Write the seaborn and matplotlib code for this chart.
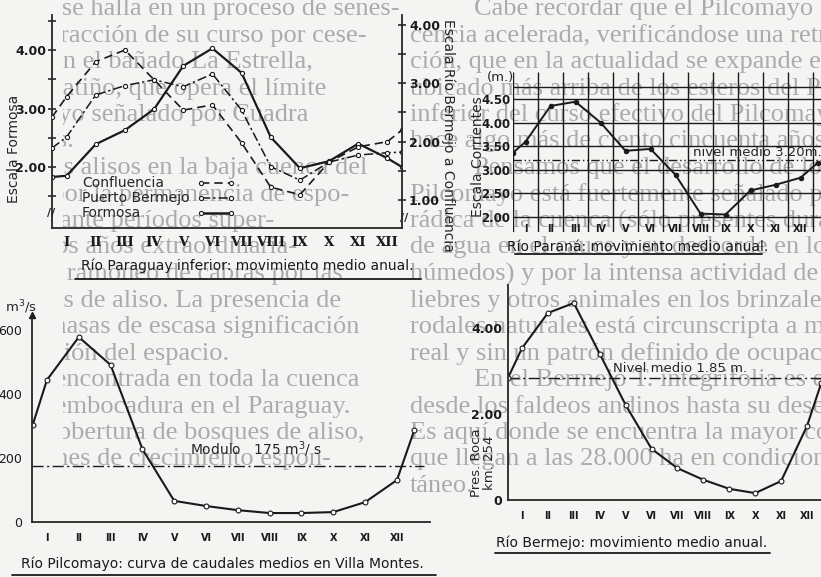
import matplotlib.pyplot as plt
import seaborn as sns

W, H = 821, 577

months = ["I", "II", "III", "IV", "V", "VI", "VII", "VIII", "IX", "X", "XI", "XII"]

# Rio Paraguay inferior (x in months from the left edge of the axis)
paraguay_x = [0, 0.5, 1.5, 2.5, 3.5, 4.5, 5.5, 6.5, 7.5, 8.5, 9.5, 10.5, 11.5, 12]
formosa = [1.83, 1.85, 2.39, 2.63, 2.99, 3.73, 4.03, 3.61, 2.51, 1.98, 2.10, 2.40, 2.15, 2.00]
confluencia = [2.42, 2.77, 3.37, 3.57, 3.06, 2.54, 2.63, 1.98, 1.22, 1.09, 1.65, 1.91, 2.00, 2.20]
puerto_bermejo = [1.89, 2.08, 2.80, 2.96, 3.06, 2.94, 3.16, 2.54, 1.57, 1.34, 1.65, 1.77, 1.81, 1.82]

# Rio Parana, Corrientes (m)
parana_x = [0, 0.5, 1.5, 2.5, 3.5, 4.5, 5.5, 6.5, 7.5, 8.5, 9.5, 10.5, 11.5, 12.2]
parana = [3.36, 3.59, 4.35, 4.44, 4.00, 3.40, 3.44, 2.89, 2.07, 2.05, 2.56, 2.68, 2.83, 3.15]
parana_nivel = 3.20

# Rio Pilcomayo, Villa Montes (m3/s)
pilco_x = [0.55, 1, 2, 3, 4, 5, 6, 7, 8, 9, 10, 11, 12, 12.55]
pilcomayo = [303, 444, 578, 491, 228, 66, 50, 37, 28, 28, 31, 62, 131, 288]
pilco_modulo = 175

# Rio Bermejo, Pres. Roca km 254
bermejo_x = [0.46, 1, 2, 3, 4, 5, 6, 7, 8, 9, 10, 11, 12, 12.55]
bermejo = [2.84, 3.53, 4.35, 4.58, 3.40, 2.21, 1.19, 0.74, 0.47, 0.26, 0.16, 0.44, 1.72, 2.72]
bermejo_nivel = 2.84

# page text printed behind the figures (the scan is rolled: each line starts
# at the right and wraps round to the left)
page_text = [
    "Cabe recordar que el Pilcomayo se halla en un proceso de senes-",
    "cencia acelerada, verificándose una retracción de su curso por cese-",
    "ción, que en la actualidad se expande en el bañado La Estrella,",
    "ubicado más arriba de los esteros del Patiño, que opera el límite",
    "inferior del curso efectivo del Pilcomayo señalado por Cuadra",
    "hace algo más de ciento cincuenta años.",
    "Pensamos que el desarrollo de los alisos en la baja cuenca del",
    "Pilcomayo está fuertemente señalado por la permanencia de espo-",
    "rádica de la cuenca (sólo presentes durante períodos super-",
    "de agua en el cauce y su desborde en los años extraordinaria-",
    "húmedos) y por la intensa actividad de ramoneo de cabras por las",
    "liebres y otros animales en los brinzales de aliso. La presencia de",
    "rodales naturales está circunscripta a masas de escasa significación",
    "real y sin un patrón definido de ocupación del espacio.",
    "En el Bermejo T. integrifolia es encontrada en toda la cuenca",
    "desde los faldeos andinos hasta su desembocadura en el Paraguay.",
    "Es aquí donde se encuentra la mayor cobertura de bosques de aliso,",
    "que llegan a las 28.000 ha en condiciones de crecimiento espon-",
    "táneo.",
]
indented = {0, 6, 14}

sns.set_theme(style="white")
plt.rcParams["font.family"] = ["DejaVu Sans"]
plt.rcParams["axes.linewidth"] = 1.3
plt.rcParams["xtick.color"] = "k"
plt.rcParams["ytick.color"] = "k"

fig = plt.figure(figsize=(W / 100, H / 100), dpi=100)
fig.patch.set_facecolor("#f4f4f2")


def px_box(left, top, right, bottom):
    return [left / W, 1 - bottom / H, (right - left) / W, (bottom - top) / H]


# background layer in pixel coordinates
bg = fig.add_axes([0, 0, 1, 1])
bg.set_xlim(0, W)
bg.set_ylim(H, 0)
bg.axis("off")

wrap = 758
page_kw = dict(family="Liberation Serif", fontsize=19, color="#ababab",
               va="center", ha="left", clip_on=True)
for left, right, shift in [(405, W, 0), (63, 428, -wrap)]:
    pa = fig.add_axes(px_box(left, 0, right, H))
    pa.set_xlim(left, right)
    pa.set_ylim(H, 0)
    pa.axis("off")
    pa.set_zorder(0.5)
    for i, line in enumerate(page_text):
        x0 = (474 if i in indented else 410) + shift
        pa.text(x0, 9 + 26.5 * i, line, **page_kw)


def px_axes(left, top, right, bottom):
    ax = fig.add_axes(px_box(left, top, right, bottom))
    ax.set_facecolor("none")
    ax.set_zorder(2)
    return ax


def title(text, cx, y, x0, x1, uy):
    bg.text(cx, y, text, ha="center", va="center", fontsize=10, color="k")
    bg.plot([x0, x1], [uy, uy], color="k", lw=1.3)


bg.set_zorder(1)
tick_font = dict(fontsize=9, fontweight="bold")

# ---------- Rio Paraguay inferior ----------
ax1 = px_axes(52, 15, 402, 228)
ax1r = ax1.twinx()
ax1r.set_facecolor("none")
sns.lineplot(x=paraguay_x, y=formosa, ax=ax1, color="k", lw=1.6, marker="o", ms=3,
             mfc="white", mec="k", mew=0.8)
sns.lineplot(x=paraguay_x, y=confluencia, ax=ax1r, color="k", lw=1.2, linestyle=(0, (5, 3)),
             marker="o", ms=3, mfc="white", mec="k", mew=0.8)
sns.lineplot(x=paraguay_x, y=puerto_bermejo, ax=ax1r, color="k", lw=1.1,
             linestyle=(0, (6, 2, 1.5, 2)), marker="o", ms=3, mfc="white", mec="k", mew=0.8)
ax1.set_xlim(0, 12)
ax1.set_ylim(0.957, 4.6)
ax1r.set_ylim(0.52, 4.17)
for a in (ax1, ax1r):
    a.spines["top"].set_visible(False)
    a.set_xlabel("")
    a.set_ylabel("")
ax1.spines["right"].set_visible(False)
ax1r.spines["left"].set_visible(False)
ax1r.spines["bottom"].set_visible(False)
ax1.set_yticks([2, 3, 4], ["2.00", "3.00", "4.00"], **tick_font)
ax1.set_yticks([1.5, 2.5, 3.5, 4.5], minor=True)
ax1r.set_yticks([1, 2, 3, 4], ["1.00", "2.00", "3.00", "4.00"], **tick_font)
ax1r.set_yticks([1.5, 2.5, 3.5], minor=True)
ax1.set_xticks([m + 0.5 for m in range(12)], months, family="DejaVu Serif",
               fontsize=9.5, fontweight="bold")
ax1.set_xticks(range(1, 12), minor=True)
ax1.tick_params(axis="x", which="major", length=0, pad=6)
ax1.tick_params(axis="x", which="minor", direction="in", length=5, width=1.1)
ax1.tick_params(axis="y", which="both", direction="inout", length=6, width=1.1, pad=1)
ax1r.tick_params(axis="y", which="both", direction="inout", length=6, width=1.1, pad=2)

bg.text(14, 149, "Escala Formosa", rotation=90, ha="center", va="center", fontsize=10)
bg.text(448, 135, "Escala Río Bermejo a Confluencia", rotation=-90, ha="center",
        va="center", fontsize=10)
bg.text(51, 213, "//", ha="center", va="center", fontsize=8, fontweight="bold")
bg.text(404, 218, "//", ha="center", va="center", fontsize=8, fontweight="bold")

legend_rows = [("Confluencia", (0, (5, 3)), 1.2),
               ("Puerto Bermejo", (0, (6, 2, 1.5, 2)), 1.1),
               ("Formosa", "-", 1.8)]
for k, (name, ls, lw) in enumerate(legend_rows):
    yy = 183 + 15 * k
    bg.text(82, yy, name, ha="left", va="center", fontsize=10)
    bg.plot([201, 231], [yy, yy], color="k", lw=lw, linestyle=ls, marker="o", ms=3,
            mfc="white", mec="k", mew=0.8)

title("Río Paraguay inferior: movimiento medio anual.", 247, 266, 75, 421, 279)

# ---------- Rio Parana ----------
ax2 = px_axes(513, 72, 821, 232)
ax2.set_xlim(0, 12.32)
ax2.set_ylim(1.68, 5.07)
for s in ax2.spines.values():
    s.set_visible(False)
ax2.hlines([2.0, 2.5, 3.0, 3.5, 4.0, 4.5, 4.75], 0, 12.32, color="k", lw=1.0)
ax2.vlines(range(0, 13), 1.68, 5.07, color="k", lw=1.0)
ax2.axhline(parana_nivel, color="k", lw=1.0, linestyle=(0, (6, 2, 1, 2, 1, 2)))
sns.lineplot(x=parana_x, y=parana, ax=ax2, color="k", lw=1.4, marker="o", ms=3.2,
             mfc="k", mec="k")
ax2.set_xlabel("")
ax2.set_ylabel("")
ax2.set_yticks([2.0, 2.5, 3.0, 3.5, 4.0, 4.5], ["2.00", "2.50", "3.00", "3.50", "4.00", "4.50"],
               fontsize=8.5, fontweight="bold")
ax2.set_xticks([m + 0.5 for m in range(12)], months, fontsize=7, fontweight="bold")
ax2.tick_params(axis="y", length=0, pad=2)
ax2.tick_params(axis="x", length=0, pad=-6)
ax2.text(7.2, parana_nivel + 0.03, "nivel medio 3.20m.", ha="left", va="bottom",
         fontsize=9.5)
bg.text(500, 78, "(m.)", ha="center", va="center", fontsize=9.5)
bg.text(478, 157, "Escala Corrientes", rotation=90, ha="center", va="center", fontsize=10)
title("Río Paraná: movimiento medio anual.", 638, 247, 515, 762, 254)

# ---------- Rio Pilcomayo ----------
ax3 = px_axes(32, 315, 430, 522)
ax3.axhline(pilco_modulo, xmax=0.985, color="k", lw=1.0, linestyle=(0, (8, 2.5, 1.5, 2.5)))
sns.lineplot(x=pilco_x, y=pilcomayo, ax=ax3, color="k", lw=1.5, marker="o", ms=3.5,
             mfc="white", mec="k", mew=0.8)
ax3.set_xlim(0.53, 13.04)
ax3.set_ylim(0, 647)
ax3.set_xlabel("")
ax3.set_ylabel("")
ax3.spines["top"].set_visible(False)
ax3.spines["right"].set_visible(False)
ax3.set_yticks([0, 200, 400, 600], ["0", "200", "400", "600"], fontsize=9)
ax3.set_yticks([100, 300, 500], minor=True)
ax3.set_xticks(range(1, 13), months, fontsize=7, fontweight="bold")
ax3.set_xticks([m + 0.5 for m in range(1, 13)], minor=True)
ax3.tick_params(axis="x", which="major", length=0, pad=8)
ax3.tick_params(axis="x", which="minor", direction="inout", length=5, width=1.0)
ax3.tick_params(axis="y", which="both", direction="inout", length=6, width=1.1, pad=4)
ax3.plot(0, 1, marker="^", color="k", ms=5, transform=ax3.transAxes, clip_on=False)
ax3.text(5.5, pilco_modulo + 22, "Modulo   175 m$^3$/ s", ha="left", va="bottom", fontsize=10)
bg.text(5, 307, "m$^3$/s", ha="left", va="center", fontsize=9.5)
title("Río Pilcomayo: curva de caudales medios en Villa Montes.", 222, 564, 12, 436, 575)

# ---------- Rio Bermejo ----------
ax4 = px_axes(508, 285, 821, 500)
ax4.axhline(bermejo_nivel, color="k", lw=1.0, linestyle=(0, (8, 2.5, 1.5, 2.5)))
sns.lineplot(x=bermejo_x, y=bermejo, ax=ax4, color="k", lw=1.5, marker="o", ms=3.5,
             mfc="white", mec="k", mew=0.8)
ax4.set_xlim(0.46, 12.54)
ax4.set_ylim(0, 5.0)
ax4.set_xlabel("")
ax4.set_ylabel("")
ax4.spines["top"].set_visible(False)
ax4.spines["right"].set_visible(False)
ax4.set_yticks([0, 2, 4], ["0", "2.00", "4.00"], **tick_font)
ax4.set_yticks([1, 3], minor=True)
ax4.set_xticks(range(1, 13), months, fontsize=7, fontweight="bold")
ax4.set_xticks([m + 0.5 for m in range(1, 12)], minor=True)
ax4.tick_params(axis="x", which="major", length=0, pad=8)
ax4.tick_params(axis="x", which="minor", direction="inout", length=5, width=1.0)
ax4.tick_params(axis="y", which="both", direction="inout", length=6, width=1.1, pad=1)
ax4.text(4.5, bermejo_nivel + 0.06, "Nivel medio 1.85 m.", ha="left", va="bottom",
         fontsize=9.5)
bg.text(483, 463, "Pres. Roca\nkm. 254", rotation=90, ha="center", va="center",
        fontsize=9.5, linespacing=1.0)
title("Río Bermejo: movimiento medio anual.", 632, 543, 495, 770, 553)

fig.savefig("out.png", dpi=100, facecolor=fig.get_facecolor())
